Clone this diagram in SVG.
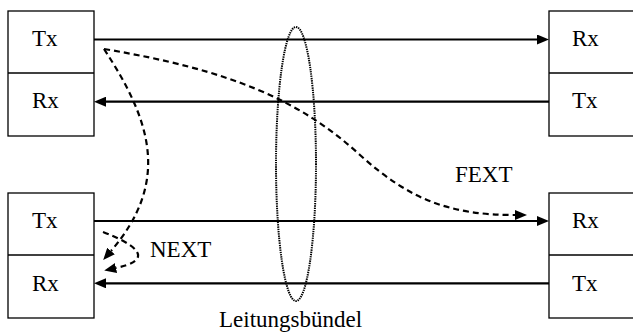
<svg xmlns="http://www.w3.org/2000/svg" width="633" height="335" viewBox="0 0 633 335">
<style>
.box{fill:#fff;stroke:#000;stroke-width:1.3}
.t{font-family:"Liberation Serif","Times New Roman",serif;font-size:23px;fill:#000}
.ln{fill:none;stroke:#000;stroke-width:2.2}
.da{fill:none;stroke:#000;stroke-width:2.2;stroke-dasharray:6 4}
.el{fill:none;stroke:#000;stroke-width:2;stroke-dasharray:1.4 0.9}
</style>
<defs>
<marker id="arr" viewBox="0 0 12 10" refX="0" refY="5" markerWidth="12" markerHeight="10" markerUnits="userSpaceOnUse" orient="auto">
<path d="M0,0 L12,5 L0,10 z" fill="#000"/>
</marker>
</defs>
<rect x="0" y="0" width="633" height="335" fill="#fff"/>
<g id="left-top">
<rect class="box" x="8" y="11" width="86" height="125"/>
<line x1="8" y1="73" x2="94" y2="73" stroke="#000" stroke-width="1.3"/>
<text class="t" x="32" y="46">Tx</text>
<text class="t" x="32" y="108">Rx</text>
</g>
<g id="right-top">
<rect class="box" x="549" y="11" width="95" height="125"/>
<line x1="549" y1="73" x2="633" y2="73" stroke="#000" stroke-width="1.3"/>
<text class="t" x="572" y="46">Rx</text>
<text class="t" x="572" y="108">Tx</text>
</g>
<g id="left-bottom">
<rect class="box" x="8" y="193" width="86" height="125"/>
<line x1="8" y1="255" x2="94" y2="255" stroke="#000" stroke-width="1.3"/>
<text class="t" x="32" y="228">Tx</text>
<text class="t" x="32" y="291">Rx</text>
</g>
<g id="right-bottom">
<rect class="box" x="549" y="193" width="95" height="125"/>
<line x1="549" y1="255" x2="633" y2="255" stroke="#000" stroke-width="1.3"/>
<text class="t" x="572" y="228">Rx</text>
<text class="t" x="572" y="291">Tx</text>
</g>
<g id="bundle">
<ellipse class="el" cx="296" cy="164" rx="20" ry="137"/>
<text class="t" x="219" y="327">Leitungsbündel</text>
</g>
<g id="connectors">
<path class="ln" d="M94,39.5 L537,39.5" marker-end="url(#arr)"/>
<path class="ln" d="M549,101.7 L106,101.7" marker-end="url(#arr)"/>
<path class="ln" d="M94,221 L537,221" marker-end="url(#arr)"/>
<path class="ln" d="M549,283.3 L106,283.3" marker-end="url(#arr)"/>
<path class="da" d="M104,49 C 230,70 300,100 360,155 C 410,200 450,215 515,215" marker-end="url(#arr)"/>
<path class="da" d="M104,49 C 152,122 170,182 111,251" marker-end="url(#arr)"/>
<path class="da" d="M103,232 C 150,250 145,262 116,268" marker-end="url(#arr)"/>
</g>
<g id="labels">
<text class="t" x="455" y="182">FEXT</text>
<text class="t" x="150" y="257">NEXT</text>
</g>
</svg>
